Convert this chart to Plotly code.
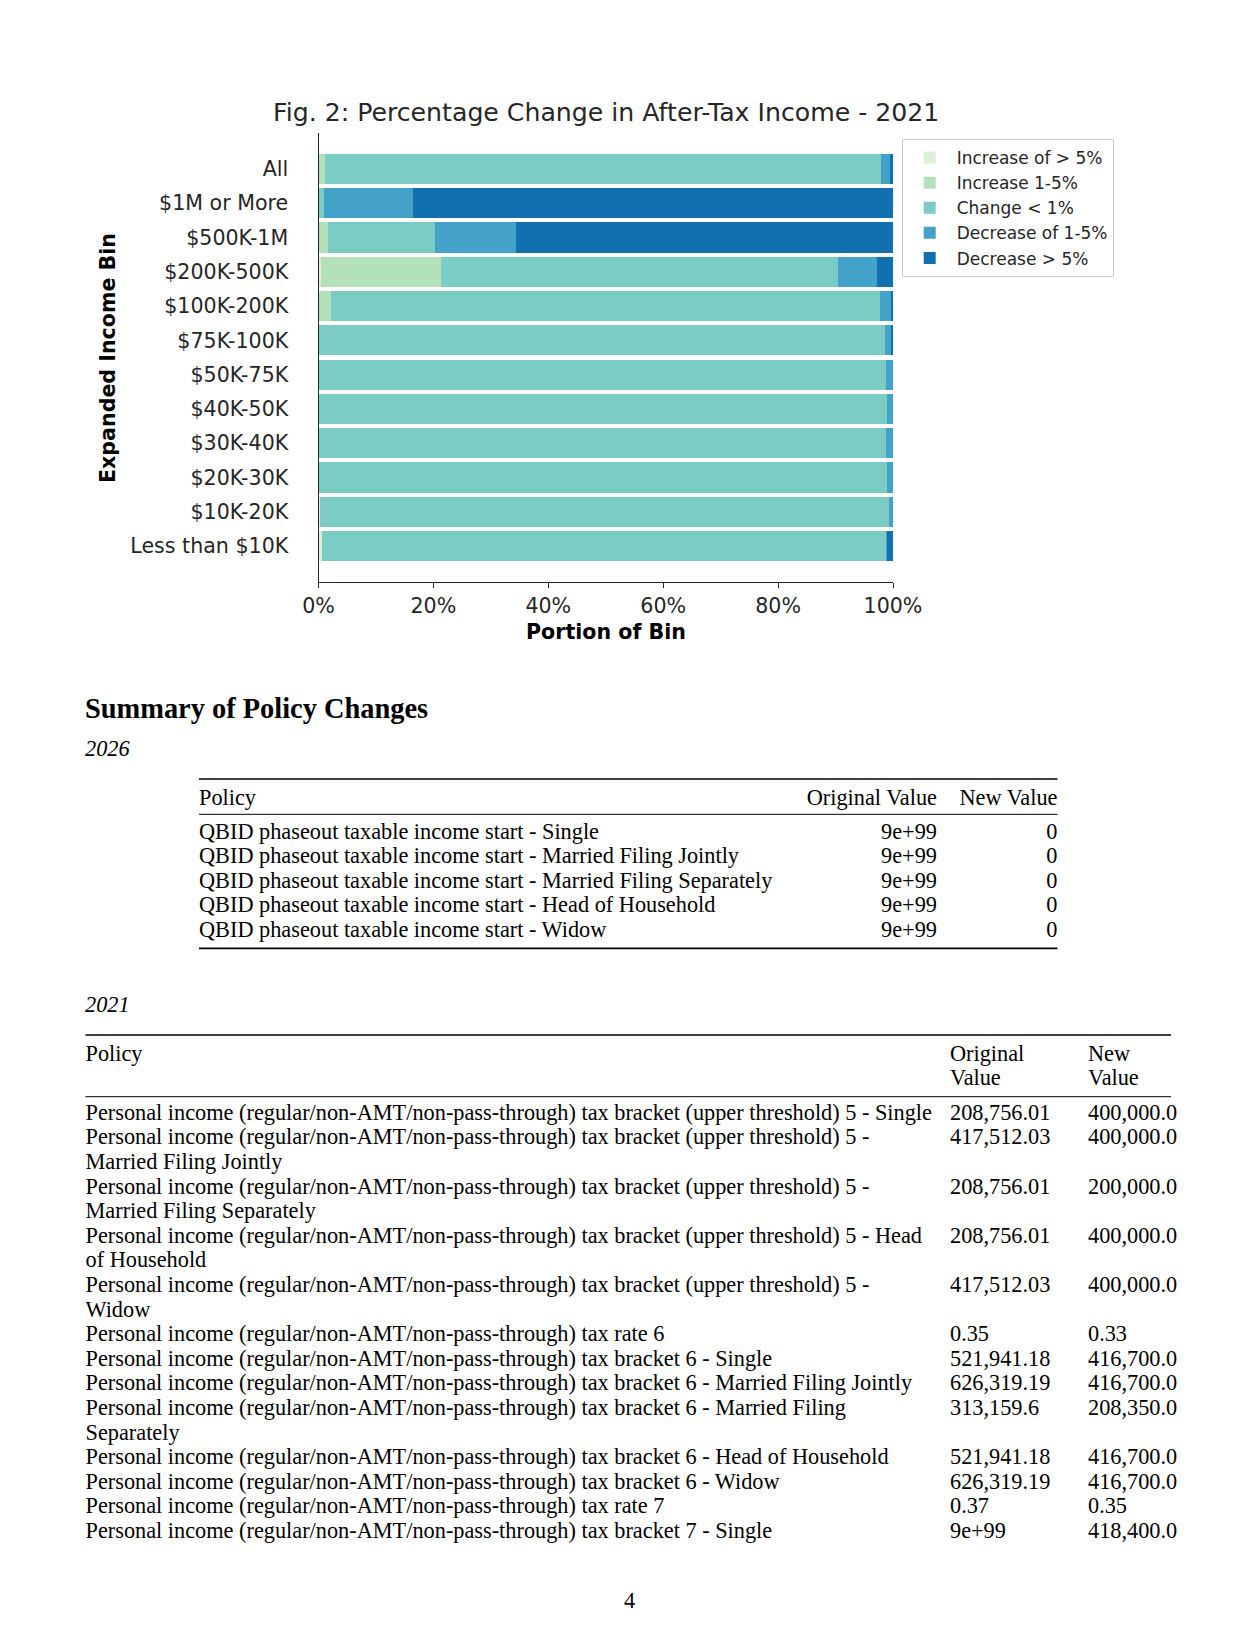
import plotly.graph_objects as go

W, H = 1258, 1628

# ---------------- chart data ----------------
bins = ["All", "$1M or More", "$500K-1M", "$200K-500K", "$100K-200K", "$75K-100K",
        "$50K-75K", "$40K-50K", "$30K-40K", "$20K-30K", "$10K-20K", "Less than $10K"]
series_names = ["Increase of > 5%", "Increase 1-5%", "Change < 1%",
                "Decrease of 1-5%", "Decrease > 5%"]
inc_gt5 = [0.0, 0.0, 0.0, 0.4, 0.0, 0.0, 0.0, 0.0, 0.0, 0.0, 0.2, 0.6]
inc_1_5 = [1.0, 0.0, 1.5, 20.8, 2.1, 0.0, 0.0, 0.0, 0.0, 0.0, 0.0, 0.0]
chg_lt1 = [96.9, 0.8, 18.7, 69.1, 95.5, 98.5, 98.7, 98.9, 98.7, 98.9, 99.1, 98.1]
dec_1_5 = [1.5, 15.5, 14.1, 6.9, 2.1, 1.2, 1.3, 1.1, 1.3, 1.1, 0.7, 0.2]
dec_gt5 = [0.6, 83.7, 65.7, 2.8, 0.3, 0.3, 0.0, 0.0, 0.0, 0.0, 0.0, 1.1]
x_ticks = [0, 20, 40, 60, 80, 100]
x_tick_labels = ["0%", "20%", "40%", "60%", "80%", "100%"]

chart_title = "Fig. 2: Percentage Change in After-Tax Income - 2021"
x_title = "Portion of Bin"
y_title = "Expanded Income Bin"

# ---------------- table data ----------------
heading = "Summary of Policy Changes"
year_a = "2026"
t_a_header = ["Policy", "Original Value", "New Value"]
t_a_policy = [
    "QBID phaseout taxable income start - Single",
    "QBID phaseout taxable income start - Married Filing Jointly",
    "QBID phaseout taxable income start - Married Filing Separately",
    "QBID phaseout taxable income start - Head of Household",
    "QBID phaseout taxable income start - Widow",
]
t_a_orig = ["9e+99", "9e+99", "9e+99", "9e+99", "9e+99"]
t_a_new = ["0", "0", "0", "0", "0"]

year_b = "2021"
t_b_header = ["Policy", "Original\nValue", "New\nValue"]
t_b_policy = [
    "Personal income (regular/non-AMT/non-pass-through) tax bracket (upper threshold) 5 - Single",
    "Personal income (regular/non-AMT/non-pass-through) tax bracket (upper threshold) 5 -\nMarried Filing Jointly",
    "Personal income (regular/non-AMT/non-pass-through) tax bracket (upper threshold) 5 -\nMarried Filing Separately",
    "Personal income (regular/non-AMT/non-pass-through) tax bracket (upper threshold) 5 - Head\nof Household",
    "Personal income (regular/non-AMT/non-pass-through) tax bracket (upper threshold) 5 -\nWidow",
    "Personal income (regular/non-AMT/non-pass-through) tax rate 6",
    "Personal income (regular/non-AMT/non-pass-through) tax bracket 6 - Single",
    "Personal income (regular/non-AMT/non-pass-through) tax bracket 6 - Married Filing Jointly",
    "Personal income (regular/non-AMT/non-pass-through) tax bracket 6 - Married Filing\nSeparately",
    "Personal income (regular/non-AMT/non-pass-through) tax bracket 6 - Head of Household",
    "Personal income (regular/non-AMT/non-pass-through) tax bracket 6 - Widow",
    "Personal income (regular/non-AMT/non-pass-through) tax rate 7",
    "Personal income (regular/non-AMT/non-pass-through) tax bracket 7 - Single",
]
t_b_orig = ["208,756.01", "417,512.03", "208,756.01", "208,756.01", "417,512.03", "0.35",
            "521,941.18", "626,319.19", "313,159.6", "521,941.18", "626,319.19", "0.37", "9e+99"]
t_b_new = ["400,000.0", "400,000.0", "200,000.0", "400,000.0", "400,000.0", "0.33",
           "416,700.0", "416,700.0", "208,350.0", "416,700.0", "416,700.0", "0.35", "418,400.0"]
page_number = "4"

# ---------------- styles ----------------
series_colors = ["#dcf0d8", "#b5e1ba", "#7bccc4", "#43a2ca", "#1170b0"]
series_values = [inc_gt5, inc_1_5, chg_lt1, dec_1_5, dec_gt5]
SANS = "DejaVu Sans"
SERIF = "Liberation Serif"
TXT = "#262626"
TS = 22.3        # table font size
PITCH = 24.6     # table line pitch (px)
AX_FS = 20.6     # chart tick / axis-title font size


def pxx(x):
    return x / W


def pxy(y):
    return 1 - y / H


fig = go.Figure()

for name, vals, col in zip(series_names, series_values, series_colors):
    fig.add_trace(go.Bar(
        y=bins, x=vals, name=name, orientation="h",
        marker=dict(color=col, line=dict(width=0)),
        width=0.88, legendgroup=name,
        xaxis="x", yaxis="y",
    ))

# --------- table text via scatter text on a page-sized hidden axis ---------
def text_trace(xs, ys, texts, pos, size=TS, color="black"):
    fig.add_trace(go.Scatter(
        x=xs, y=ys, text=texts, mode="text", textposition=pos,
        textfont=dict(family=SERIF, size=size, color=color),
        xaxis="x2", yaxis="y2", showlegend=False, hoverinfo="skip",
    ))


def hrule(x0, x1, y, w):
    fig.add_shape(type="line", xref="x2", yref="y2", x0=x0, x1=x1, y0=y, y1=y,
                  line=dict(color="black", width=w))


# Table A (2026)
A_L, A_R, A_C1R = 199, 1057.5, 937
A_TOP, A_HEAD, A_MID, A_ROW0 = 779, 799, 814.3, 833
hrule(A_L, A_R, A_TOP, 1.6)
hrule(A_L, A_R, A_MID, 1.0)
rows_y = [A_ROW0 + PITCH * i for i in range(len(t_a_policy))]
hrule(A_L, A_R, rows_y[-1] + 17, 1.6)
text_trace([A_L], [A_HEAD], [t_a_header[0]], "middle right")
text_trace([A_C1R, A_R], [A_HEAD, A_HEAD], t_a_header[1:], "middle left")
text_trace([A_L] * len(t_a_policy), rows_y, t_a_policy, "middle right")
text_trace([A_C1R] * len(t_a_orig), rows_y, t_a_orig, "middle left")
text_trace([A_R] * len(t_a_new), rows_y, t_a_new, "middle left")

# Table B (2021)
B_L, B_R, B_C1, B_C2 = 85.5, 1171, 950, 1088
B_TOP, B_HEAD, B_MID, B_ROW0 = 1035, 1055, 1096.7, 1114.3
hrule(B_L, B_R, B_TOP, 1.6)
hrule(B_L, B_R, B_MID, 1.0)
for col_x, htxt in zip([B_L, B_C1, B_C2], t_b_header):
    lines = htxt.split("\n")
    text_trace([col_x] * len(lines), [B_HEAD + PITCH * k for k in range(len(lines))],
               lines, "middle right")
line_idx = 0
px_, py_, pt_ = [], [], []
ox, oy, ot, nx, ny, nt = [], [], [], [], [], []
for pol, o, n in zip(t_b_policy, t_b_orig, t_b_new):
    y0 = B_ROW0 + PITCH * line_idx
    for k, ln in enumerate(pol.split("\n")):
        px_.append(B_L)
        py_.append(y0 + PITCH * k)
        pt_.append(ln)
    ox.append(B_C1); oy.append(y0); ot.append(o)
    nx.append(B_C2); ny.append(y0); nt.append(n)
    line_idx += len(pol.split("\n"))
text_trace(px_, py_, pt_, "middle right")
text_trace(ox, oy, ot, "middle right")
text_trace(nx, ny, nt, "middle right")

annotations = [
    dict(text=chart_title, x=605.8, y=112, xref="x2", yref="y2", xanchor="center",
         yanchor="middle", showarrow=False, font=dict(family=SANS, size=25.2, color=TXT)),
    dict(text="<b>" + x_title + "</b>", x=605.7, y=632, xref="x2", yref="y2",
         xanchor="center", yanchor="middle", showarrow=False,
         font=dict(family=SANS, size=AX_FS, color="black")),
    dict(text="<b>" + y_title + "</b>", x=108, y=358, xref="x2", yref="y2",
         xanchor="center", yanchor="middle", textangle=-90, showarrow=False,
         font=dict(family=SANS, size=AX_FS, color="black")),
    dict(text="<b>" + heading + "</b>", x=82.5, y=708, xref="x2", yref="y2",
         xanchor="left", yanchor="middle", showarrow=False,
         font=dict(family=SERIF, size=28.4, color="black")),
    dict(text="<i>" + year_a + "</i>", x=82.5, y=748, xref="x2", yref="y2",
         xanchor="left", yanchor="middle", showarrow=False,
         font=dict(family=SERIF, size=TS, color="black")),
    dict(text="<i>" + year_b + "</i>", x=82.5, y=1004, xref="x2", yref="y2",
         xanchor="left", yanchor="middle", showarrow=False,
         font=dict(family=SERIF, size=TS, color="black")),
    dict(text=page_number, x=629, y=1600, xref="x2", yref="y2",
         xanchor="center", yanchor="middle", showarrow=False,
         font=dict(family=SERIF, size=TS, color="black")),
]

fig.update_layout(
    width=W, height=H, autosize=False,
    margin=dict(l=0, r=0, t=0, b=0, pad=0, autoexpand=False),
    paper_bgcolor="white", plot_bgcolor="rgba(0,0,0,0)",
    barmode="stack", bargap=0,
    font=dict(family=SANS, color=TXT),
    showlegend=True,
    legend=dict(
        x=pxx(901.7), y=pxy(139), xanchor="left", yanchor="top",
        bgcolor="white", bordercolor="#cccccc", borderwidth=1,
        font=dict(family=SANS, size=17, color=TXT),
        traceorder="grouped", tracegroupgap=0, itemwidth=44,
    ),
    xaxis=dict(
        domain=[pxx(318.5), pxx(893)], range=[0, 100], anchor="y", automargin=False,
        tickvals=x_ticks, ticktext=x_tick_labels, ticks="outside", ticklen=5,
        tickwidth=1.25, tickcolor=TXT, showline=True, linecolor=TXT, linewidth=1.25,
        showgrid=False, zeroline=False, tickfont=dict(family=SANS, size=AX_FS, color=TXT),
        fixedrange=True,
    ),
    yaxis=dict(
        domain=[pxy(582), pxy(133)], type="category", categoryorder="array",
        categoryarray=bins, range=[len(bins) - 1 + 1.045, -1.045], anchor="x",
        automargin=False,
        ticks="outside", ticklen=25, tickcolor="rgba(0,0,0,0)",
        showline=True, linecolor=TXT, linewidth=1.25, showgrid=False, zeroline=False,
        tickfont=dict(family=SANS, size=AX_FS, color=TXT), fixedrange=True,
    ),
    xaxis2=dict(domain=[0, 1], range=[0, W], anchor="y2", visible=False,
                fixedrange=True, automargin=False),
    yaxis2=dict(domain=[0, 1], range=[H, 0], anchor="x2", visible=False,
                fixedrange=True, automargin=False),
    annotations=annotations,
)

fig.write_html(
    "out.html",
    config={"displayModeBar": False},
    post_script="document.body.style.margin='0px';document.body.style.overflow='hidden';",
)
